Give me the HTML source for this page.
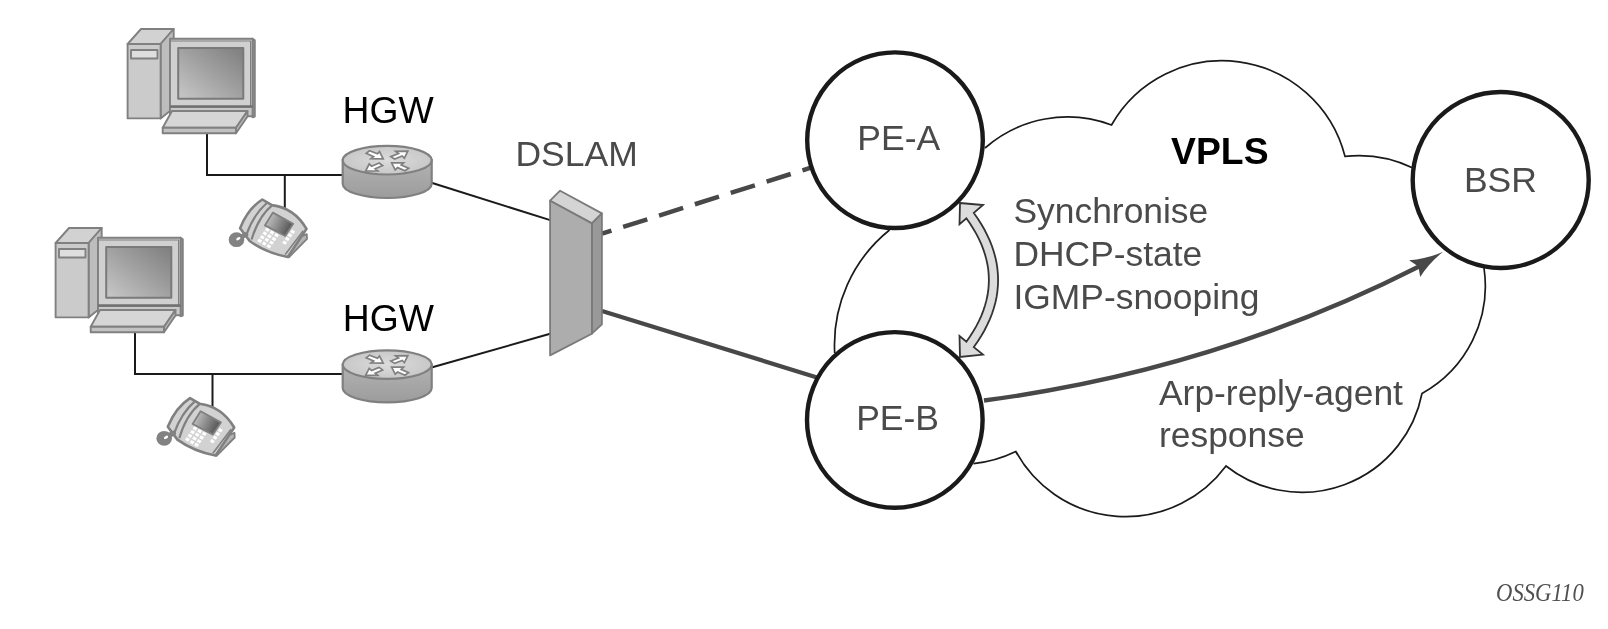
<!DOCTYPE html>
<html><head><meta charset="utf-8">
<style>
html,body{margin:0;padding:0;background:#fff;}
body{width:1608px;height:629px;overflow:hidden;}
svg{display:block;filter:grayscale(1)}
text{font-family:"Liberation Sans",sans-serif;}
</style></head><body>
<svg width="1608" height="629" viewBox="0 0 1608 629">
<defs>
  <linearGradient id="scr" x1="0" y1="1" x2="1" y2="0">
    <stop offset="0" stop-color="#c8c8c8"/><stop offset="0.5" stop-color="#a2a2a2"/><stop offset="1" stop-color="#7e7e7e"/>
  </linearGradient>
  <linearGradient id="pscr" x1="0" y1="0.3" x2="1" y2="0.7">
    <stop offset="0" stop-color="#c8c8c8"/><stop offset="1" stop-color="#4a4a4a"/>
  </linearGradient>
  <linearGradient id="rbody" x1="0" y1="0" x2="0" y2="1">
    <stop offset="0" stop-color="#b2b2b2"/><stop offset="1" stop-color="#9c9c9c"/>
  </linearGradient>
  <radialGradient id="rtop" cx="0.5" cy="0.5" r="0.6">
    <stop offset="0" stop-color="#dcdcdc"/><stop offset="1" stop-color="#c4c4c4"/>
  </radialGradient>
  
<g id="pc" stroke="#808080" stroke-width="1.9" stroke-linejoin="round">
  <!-- tower -->
  <polygon points="127.6,44 141,29 173.7,29 160.6,44" fill="#d2d2d2"/>
  <polygon points="160.6,44 173.7,29 173.7,108 160.6,118.4" fill="#bdbdbd"/>
  <rect x="127.6" y="44" width="33" height="74.4" fill="#cbcbcb"/>
  <rect x="131" y="50" width="26.5" height="8.5" fill="#dedede"/>
  <!-- monitor -->
  <polygon points="252.6,38.8 254.8,40.2 254.8,116.6 252.6,117.3" fill="#bdbdbd"/>
  <rect x="170" y="38.8" width="82.6" height="68.2" fill="#d0d0d0"/>
  <rect x="170" y="107" width="82.6" height="9.3" fill="#c8c8c8"/>
  <path d="M170,41 H250.6 V106" fill="none" stroke-width="1.2"/>
  <path d="M170,106.4 H252.6" fill="none" stroke="#707070" stroke-width="2.2"/>
  <rect x="178.2" y="48" width="65.1" height="50.7" fill="url(#scr)" stroke="#7a7a7a" stroke-width="2"/>
  <!-- keyboard -->
  <polygon points="172,111 247.5,111 236,127.7 162.7,127.7" fill="#d6d6d6"/>
  <polygon points="162.7,127.7 236,127.7 236,133.2 162.7,133.2" fill="#c2c2c2"/>
  <polygon points="236,127.7 247.5,111 247.5,116.5 236,133.2" fill="#b8b8b8"/>
</g>

  
<g id="rt" stroke="#808080" stroke-width="2.2">
  <path d="M342.7,160.2 L342.7,183.7 A44.5,14.3 0 0 0 431.7,183.7 L431.7,160.2 Z" fill="url(#rbody)"/>
  <ellipse cx="387.2" cy="160.2" rx="44.5" ry="14.3" fill="url(#rtop)"/>
  <g fill="#fff" stroke="#808080" stroke-width="1.7" stroke-linejoin="miter">
    <!-- top-left arrow pointing down-right -->
    <path d="M366.2,153.4 L369.5,150.8 L377.5,153.8 L379.5,151.6 L383.2,158.8 L371.0,158.6 L373.6,156.6 Z"/>
    <!-- top-right arrow pointing up-right -->
    <path d="M390.8,156.6 L398.5,153.6 L395.6,151.4 L407.8,151.2 L404.4,158.2 L402.2,156.0 L394.6,159.0 Z"/>
    <!-- bottom-left arrow pointing down-left -->
    <path d="M379.2,163.0 L371.6,166.2 L369.2,164.0 L365.6,171.0 L377.8,171.0 L375.2,168.8 L382.6,165.6 Z"/>
    <!-- bottom-right arrow pointing up-left -->
    <path d="M408.6,168.2 L405.0,170.8 L397.6,167.6 L395.2,169.8 L391.6,162.8 L403.6,162.8 L401.2,165.0 Z"/>
  </g>
</g>

  
<g id="ph" stroke-linejoin="round">
  <!-- foot -->
  <polygon points="298.5,237.6 306.8,234.2 307.0,238.9 288.9,257.3 287.3,255.7" fill="#b4b4b4" stroke="#808080" stroke-width="1.8"/>
  <!-- body -->
  <path d="M262.3,199.5 L271.9,205.1 Q294.2,207.8 306.5,228.9 L287.8,257.0 Q265.5,252.5 249.7,241.0 L240.1,228.2 Q247.9,208.8 262.3,199.5 Z" fill="#d2d2d2" stroke="#808080" stroke-width="2.6"/>
  <!-- handset separators -->
  <path d="M267.4,202.5 Q253.8,214.2 246.6,234.2" fill="none" stroke="#808080" stroke-width="2.2"/>
  <path d="M272.1,205.3 Q258.5,216.3 251.6,239.5" fill="none" stroke="#808080" stroke-width="2.2"/>
  <path d="M303.3,230.7 L285.2,254.6" fill="none" stroke="#808080" stroke-width="1.6"/>
  <!-- cord coil -->
  <path d="M237.8,238.7 L245.8,234.6" stroke="#828282" stroke-width="5" stroke-linecap="round" fill="none"/>
  <ellipse cx="236.5" cy="239.7" rx="7.8" ry="7.4" fill="#828282"/>
  <ellipse cx="238.3" cy="238.7" rx="2.3" ry="1.3" fill="#fff" transform="rotate(-30 238.3 238.7)"/>
  <!-- screen -->
  <polygon points="272.9,212.6 293.2,223.8 285.2,236.0 264.9,225.4" fill="url(#pscr)" stroke="#808080" stroke-width="1.8"/>
  <g fill="#fff" stroke="none"><polygon points="266.6,227.6 269.8,229.5 268.1,232.1 264.9,230.1"/><polygon points="271.2,230.3 274.4,232.2 272.7,234.8 269.5,232.9"/><polygon points="275.8,233.0 279.0,234.9 277.3,237.5 274.1,235.6"/><polygon points="264.1,231.3 267.3,233.2 265.6,235.7 262.4,233.8"/><polygon points="268.7,234.0 271.9,235.9 270.2,238.5 267.0,236.5"/><polygon points="273.2,236.7 276.4,238.6 274.7,241.2 271.5,239.3"/><polygon points="261.5,234.9 264.7,236.9 263.0,239.4 259.8,237.5"/><polygon points="266.1,237.7 269.3,239.6 267.6,242.1 264.4,240.2"/><polygon points="270.7,240.4 273.9,242.3 272.2,244.8 269.0,242.9"/><polygon points="259.0,238.6 262.2,240.5 260.5,243.1 257.3,241.2"/><polygon points="263.6,241.3 266.8,243.2 265.0,245.8 261.9,243.9"/><polygon points="268.1,244.0 271.3,246.0 269.6,248.5 266.4,246.6"/><polygon points="291.9,229.5 295.1,231.4 293.4,234.0 290.2,232.1"/><polygon points="289.2,233.1 292.4,235.0 290.7,237.6 287.5,235.7"/><polygon points="286.6,236.8 289.8,238.7 288.1,241.2 284.9,239.3"/><polygon points="283.9,240.4 287.1,242.3 285.4,244.8 282.2,242.9"/></g>
</g>

</defs>
<rect width="1608" height="629" fill="#fff"/>

<!-- cloud -->
<path d="M985,148 A125,125 0 0 1 1111.5,125 A127,127 0 0 1 1345,156.4 A125,125 0 0 1 1413,168 M1484,268 A123,123 0 0 1 1422,393.5 A122.5,122.5 0 0 1 1226,466 A125,125 0 0 1 1015.8,451.5 A125,125 0 0 1 973.5,463.6 M889.5,230 A147.5,147.5 0 0 0 834.7,353" fill="none" stroke="#1a1a1a" stroke-width="1.7"/>

<!-- thin connection lines -->
<g fill="none" stroke="#1a1a1a" stroke-width="2">
  <path d="M207,132 V175 H343.5"/>
  <path d="M284.8,175 V210"/>
  <path d="M135,331 V374 H343.5"/>
  <path d="M212.5,374 V409"/>
  <path d="M431.5,182.8 L551,220.4"/>
  <path d="M431.5,367.5 L551,333.5"/>
</g>

<!-- thick links -->
<path d="M602,233.6 L811,167.6" fill="none" stroke="#48484a" stroke-width="4.5" stroke-dasharray="25.3,12.3" stroke-dashoffset="15.4"/>
<path d="M602,311 L817,377.5" fill="none" stroke="#48484a" stroke-width="4.3"/>

<!-- BSR arrow -->
<path d="M984,400.5 C1129,381.5 1274,340.4 1420,266" fill="none" stroke="#48484a" stroke-width="4.4"/>
<path d="M1443.1,251.8 Q1427.5,258.8 1409.1,260.3 L1418.4,266.4 L1420.2,277 Q1429.3,262.6 1443.1,251.8 Z" fill="#48484a"/>

<!-- icons -->
<use href="#pc"/>
<use href="#pc" transform="translate(-72,199)"/>
<use href="#rt"/>
<use href="#rt" transform="translate(0,204.4)"/>
<use href="#ph"/>
<use href="#ph" transform="translate(-72.3,198.6)"/>

<!-- DSLAM -->
<g stroke="#7a7a7a" stroke-width="1.8" stroke-linejoin="round">
  <polygon points="550.1,200.7 560.1,190.7 601.9,213.4 591.9,223.4" fill="#d4d4d4"/>
  <polygon points="591.9,223.4 601.9,213.4 601.9,324.3 591.9,333.7" fill="#999"/>
  <polygon points="550.1,200.7 591.9,223.4 591.9,333.7 550.1,355.4" fill="#adadad"/>
</g>

<!-- sync arrow -->
<path d="M960.0,203.0 L983.0,205.0 L973.8,212.9 L977.7,218.4 L981.2,224.0 L984.4,229.5 L987.2,235.1 L989.8,240.7 L992.0,246.2 L993.8,251.8 L995.4,257.5 L996.6,263.1 L997.4,268.7 L997.9,274.4 L998.1,280.0 L997.9,285.6 L997.4,291.3 L996.6,296.9 L995.4,302.5 L993.8,308.2 L992.0,313.8 L989.8,319.3 L987.2,324.9 L984.4,330.5 L981.2,336.0 L977.7,341.6 L973.8,347.1 L983.0,354.6 L960.0,357.0 L959.5,336.0 L966.4,341.7 L970.0,336.5 L973.3,331.3 L976.3,326.1 L979.0,320.9 L981.3,315.8 L983.3,310.6 L985.0,305.5 L986.4,300.4 L987.5,295.3 L988.3,290.2 L988.7,285.1 L988.9,280.0 L988.7,274.9 L988.3,269.8 L987.5,264.7 L986.4,259.6 L985.0,254.5 L983.3,249.4 L981.3,244.2 L979.0,239.1 L976.3,233.9 L973.3,228.7 L970.0,223.5 L966.4,218.3 L959.5,224.3Z" fill="#dcdcdc" stroke="#333" stroke-width="1.8" stroke-linejoin="miter"/>

<!-- circles -->
<g fill="#fff" stroke="#1a1a1a" stroke-width="4.4">
  <circle cx="895" cy="140.2" r="87.8"/>
  <circle cx="894.8" cy="419.9" r="87.8"/>
  <circle cx="1500.7" cy="180" r="88"/>
</g>

<!-- labels -->
<g font-size="37.3px" fill="#000">
  <text x="342.5" y="122.8">HGW</text>
  <text x="342.8" y="331.4">HGW</text>
</g>
<g font-size="35.5px" fill="#4a4a4c">
  <text x="515.4" y="166.1">DSLAM</text>
  <text x="857.3" y="149.9">PE-A</text>
  <text x="856.2" y="429.8">PE-B</text>
  <text x="1463.9" y="192.1">BSR</text>
</g>
<text x="1171.1" y="164" font-size="37.3px" font-weight="bold" fill="#000">VPLS</text>
<g font-size="35.4px" fill="#4a4a4c">
  <text x="1013.5" y="223">Synchronise</text>
  <text x="1013.5" y="266">DHCP-state</text>
  <text x="1013.5" y="308.7">IGMP-snooping</text>
  <text x="1159" y="404.8">Arp-reply-agent</text>
  <text x="1159" y="447">response</text>
</g>
<text transform="translate(1496,600.8) scale(0.90,1)" font-size="25.2px" font-style="italic" fill="#505050" style="font-family:'Liberation Serif',serif">OSSG110</text>
</svg>
</body></html>
